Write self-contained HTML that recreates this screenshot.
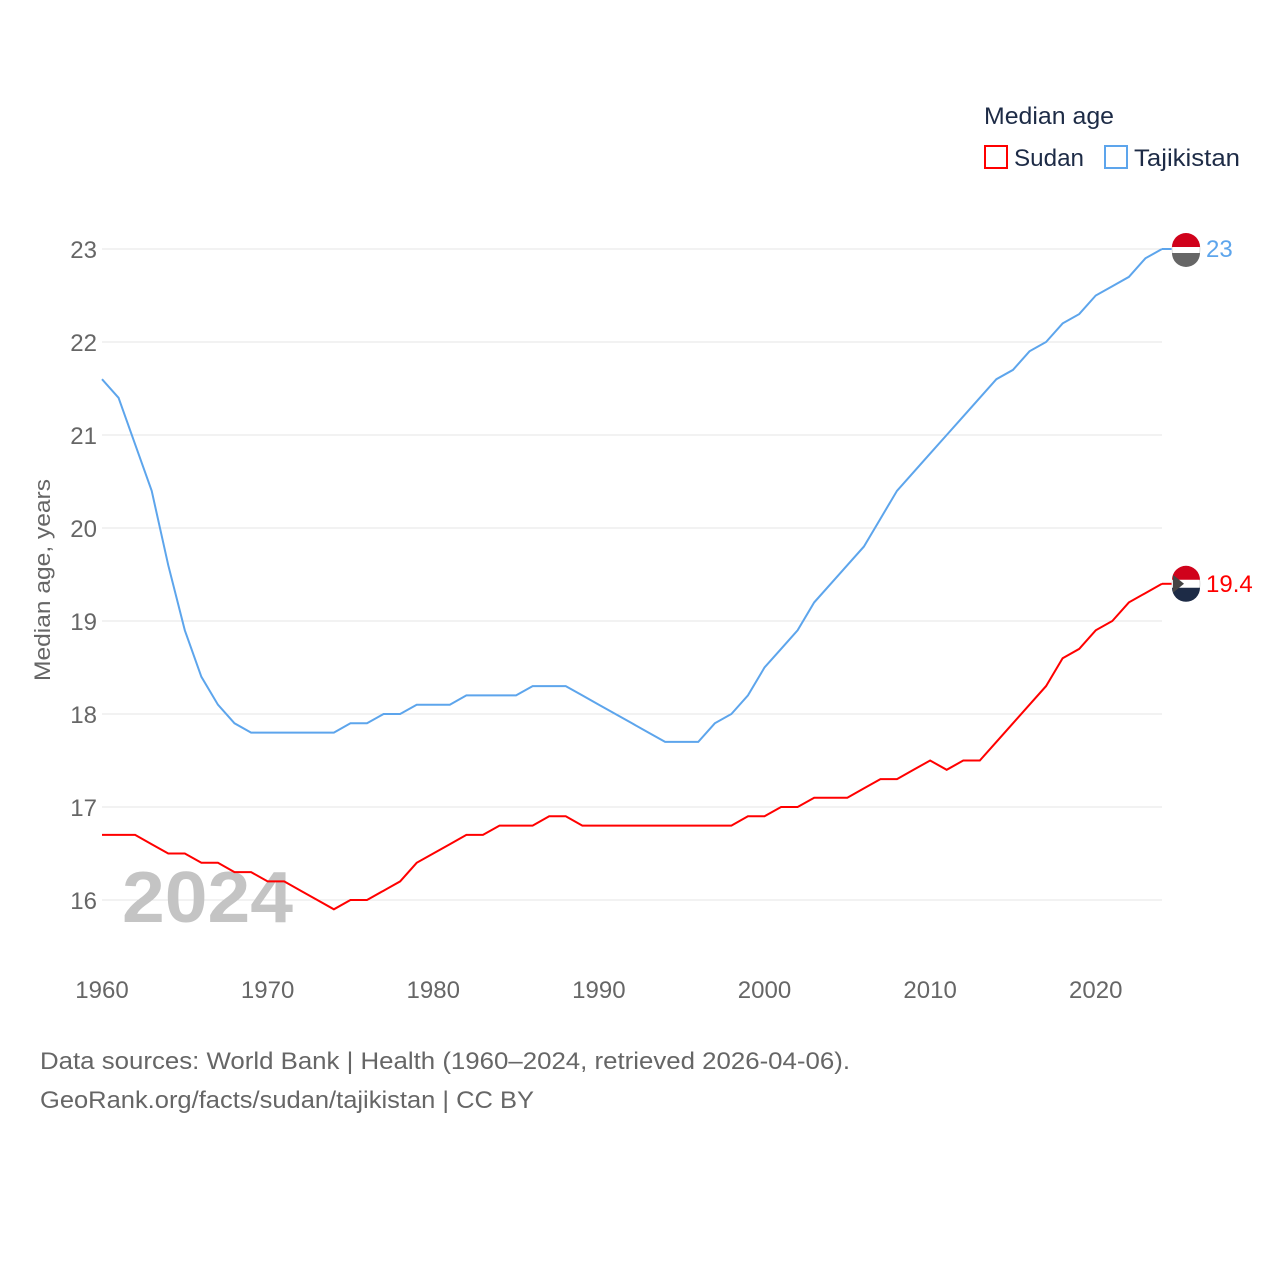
<!DOCTYPE html>
<html><head><meta charset="utf-8">
<style>
body{margin:0;background:#fff;font-family:"Liberation Sans",sans-serif;}
svg text{font-family:"Liberation Sans",sans-serif;}
</style></head>
<body>
<svg id="chart" width="1280" height="1280" xmlns="http://www.w3.org/2000/svg">
<g id="grid"></g>
<g id="yticks"></g>
<g id="xticks"></g>
<text x="122" y="922" font-size="72" font-weight="bold" fill="#c4c4c4" textLength="171" lengthAdjust="spacingAndGlyphs">2024</text>
<text transform="translate(50,580) rotate(-90)" text-anchor="middle" font-size="22" fill="#666" textLength="202" lengthAdjust="spacingAndGlyphs">Median age, years</text>
<g id="series"></g>
<g>
<text x="984" y="124" font-size="24" fill="#1d2b46" textLength="130" lengthAdjust="spacingAndGlyphs">Median age</text>
<rect x="985" y="146" width="22" height="22" fill="none" stroke="#ff0000" stroke-width="2"/>
<text x="1014" y="166" font-size="24" fill="#1d2b46" textLength="70" lengthAdjust="spacingAndGlyphs">Sudan</text>
<rect x="1105" y="146" width="22" height="22" fill="none" stroke="#5da5ec" stroke-width="2"/>
<text x="1134" y="166" font-size="24" fill="#1d2b46" textLength="106" lengthAdjust="spacingAndGlyphs">Tajikistan</text>
</g>
<g font-size="24" fill="#666">
<text x="40" y="1069" textLength="810" lengthAdjust="spacingAndGlyphs">Data sources: World Bank | Health (1960–2024, retrieved 2026-04-06).</text>
<text x="40" y="1108" textLength="494" lengthAdjust="spacingAndGlyphs">GeoRank.org/facts/sudan/tajikistan | CC BY</text>
</g>
</svg>
<script>
const years=[];for(let y=1960;y<=2024;y++)years.push(y);
const tajikistan=[21.6,21.4,20.9,20.4,19.6,18.9,18.4,18.1,17.9,17.8,17.8,17.8,17.8,17.8,17.8,17.9,17.9,18.0,18.0,18.1,18.1,18.1,18.2,18.2,18.2,18.2,18.3,18.3,18.3,18.2,18.1,18.0,17.9,17.8,17.7,17.7,17.7,17.9,18.0,18.2,18.5,18.7,18.9,19.2,19.4,19.6,19.8,20.1,20.4,20.6,20.8,21.0,21.2,21.4,21.6,21.7,21.9,22.0,22.2,22.3,22.5,22.6,22.7,22.9,23.0];
const sudan=[16.7,16.7,16.7,16.6,16.5,16.5,16.4,16.4,16.3,16.3,16.2,16.2,16.1,16.0,15.9,16.0,16.0,16.1,16.2,16.4,16.5,16.6,16.7,16.7,16.8,16.8,16.8,16.9,16.9,16.8,16.8,16.8,16.8,16.8,16.8,16.8,16.8,16.8,16.8,16.9,16.9,17.0,17.0,17.1,17.1,17.1,17.2,17.3,17.3,17.4,17.5,17.4,17.5,17.5,17.7,17.9,18.1,18.3,18.6,18.7,18.9,19.0,19.2,19.3,19.4];
const yTicks=[16,17,18,19,20,21,22,23];
const xTicks=[1960,1970,1980,1990,2000,2010,2020];
const NS="http://www.w3.org/2000/svg";
const xs=y=>102+(y-1960)*(1162-102)/64;
const ys=v=>900-(v-16)*93;
function mk(t,a,p){const e=document.createElementNS(NS,t);for(const k in a)e.setAttribute(k,a[k]);p.appendChild(e);return e;}
const grid=document.getElementById('grid'),yt=document.getElementById('yticks'),xt=document.getElementById('xticks'),ser=document.getElementById('series');
yTicks.forEach(v=>{
 const l=mk('line',{x1:102,x2:1162,y1:ys(v),y2:ys(v),stroke:'#e6e6e6','stroke-width':1},grid);
 
 
 const t=mk('text',{x:97,y:ys(v)+9,'text-anchor':'end','font-size':24,fill:'#666'},yt);t.textContent=v;
 
 
});
xTicks.forEach(v=>{
 const t=mk('text',{x:xs(v),y:998,'text-anchor':'middle','font-size':24,fill:'#666'},xt);t.textContent=v;
 
 
});
function line(vals,color,name){
 const p=mk('polyline',{points:vals.map((v,i)=>xs(years[i])+','+ys(v)).join(' '),fill:'none',stroke:color,'stroke-width':2},ser);
 
 
 const last=vals[vals.length-1],ly=ys(last);
 mk('line',{x1:xs(2024),x2:1176,y1:ly,y2:ly,stroke:color,'stroke-width':2},ser);
 const c=mk('circle',{cx:1186,cy:ly,r:14,fill:'#fff',stroke:'#ddd'},ser);
 
 
 const t=mk('text',{x:1206,y:ly+8,'font-size':24,fill:color},ser);t.textContent=last;
 
 
 return ly;
}
const ty=line(tajikistan,'#5da5ec','tajikistan');
mk('path',{d:`M1172 ${ty-2} A14 14 0 0 1 1200 ${ty-2} Z`,fill:'#d0021b'},ser);
mk('path',{d:`M1172 ${ty+4} A14 14 0 0 0 1200 ${ty+4} Z`,fill:'#666'},ser);
const sy=line(sudan,'#ff0000','sudan');
mk('path',{d:`M1172 ${sy-4} A14 14 0 0 1 1200 ${sy-4} Z`,fill:'#d0021b'},ser);
mk('path',{d:`M1172 ${sy+4} A14 14 0 0 0 1200 ${sy+4} Z`,fill:'#1d2b46'},ser);
mk('path',{d:`M1173 ${sy-9} L1184 ${sy} L1173 ${sy+9} Z`,fill:'#444'},ser);
</script>
</body></html>
